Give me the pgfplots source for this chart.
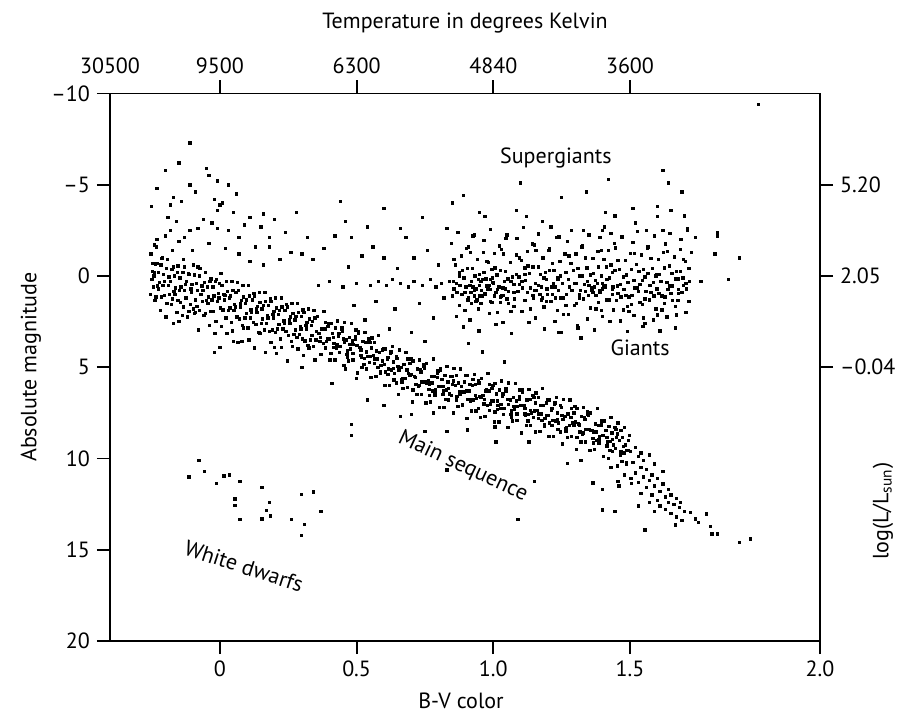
\documentclass[border=0pt]{standalone}
\usepackage{fontspec}
\setmainfont{PT Sans}
\usepackage{pgfplots}
\pgfplotsset{compat=1.18}
\usetikzlibrary{calc}
\begin{document}
\begin{tikzpicture}[font=\fontsize{11}{13}\selectfont]
\pgfplotsset{hrbase/.style={scale only axis, width=355pt, height=273.75pt,
  xmin=-0.402, xmax=2.195, ymin=-10, ymax=20, y dir=reverse,
  axis line style={line width=0.9pt}, tick align=outside,
  major tick length=6.5pt, major tick style={line width=0.9pt, black}, minor tick num=0}}
\begin{axis}[name=ax, hrbase,
  xtick={0,0.5,1,1.5,2.195}, xticklabels={0,0.5,1.0,1.5,2.0},
  ytick={-10,-5,0,5,10,15,20}, yticklabels={\textendash10,\textendash5,0,5,10,15,20},
  xtick pos=lower, ytick pos=left]
\pgfplotsset{dotstyle/.style={only marks, mark=square*, mark size=0.6pt, black}}
% hot luminous stars (upper left)
\addplot[dotstyle] coordinates {(-0.11,-7.3)(-0.15,-6.2)(-0.20,-5.8)(-0.23,-4.8)(-0.25,-3.8)(-0.11,-5.0)(-0.05,-5.9)(-0.04,-5.5)(0.03,-5.0)(0.06,-4.5)(-0.02,-4.2)(0.0,-3.9)(-0.01,-3.6)(0.01,-4.0)(-0.18,-3.9)(-0.14,-4.1)(-0.17,-4.3)(0.11,-3.2)(0.16,-3.4)(0.20,-3.1)(0.15,-2.7)(0.18,-2.1)(-0.23,-2.0)(-0.18,-2.5)(-0.11,-2.5)(-0.08,-2.6)(-0.01,-2.6)(0.03,-2.5)(0.07,-2.1)(0.13,-1.6)(0.18,-1.6)(0.22,-0.9)(0.26,-1.3)(0.30,-1.2)(-0.24,-1.7)(-0.21,-1.0)(-0.17,-0.5)(-0.23,-0.7)(-0.13,-0.5)(-0.08,-0.5)(0.32,-2.1)(-0.19,-3.2)(-0.16,-3.0)(-0.13,-2.1)(-0.06,-3.1)(-0.03,-2.9)(0.05,-3.5)(0.09,-2.8)(-0.09,-4.6)(-0.01,-5.2)(0.24,-2.4)(0.28,-3.5)(-0.20,-2.2)(-0.15,-1.9)(-0.10,-1.4)(-0.04,-1.8)(0.02,-1.5)(0.07,-1.2)(0.11,-0.8)(0.16,-0.6)};
% upper main sequence
\addplot[dotstyle] coordinates {(-0.253,-1.2)(-0.246,-0.25)(-0.249,0.2)(-0.254,1.0)
(-0.236,-0.65)(-0.242,0.0)(-0.244,0.6)(-0.238,1.35)
(-0.233,-1.6)(-0.226,-0.2)(-0.229,0.55)(-0.234,1.15)
(-0.216,-0.6)(-0.222,0.35)(-0.224,0.7)(-0.218,1.9)
(-0.213,-0.95)(-0.206,-0.1)(-0.209,0.5)(-0.214,1.15)
(-0.196,-0.4)(-0.202,0.3)(-0.204,1.05)(-0.198,2.25)
(-0.193,-0.9)(-0.186,0.05)(-0.189,0.5)(-0.194,1.5)
(-0.176,-0.35)(-0.182,0.3)(-0.184,1.0)(-0.178,1.55)
(-0.173,-1.4)(-0.166,0.0)(-0.169,0.85)(-0.174,1.25)(-0.17,2.6)
(-0.156,-0.2)(-0.162,0.65)(-0.164,1.0)(-0.158,2.0)
(-0.153,-0.55)(-0.146,0.1)(-0.149,0.8)(-0.154,1.35)
(-0.136,-0.2)(-0.142,0.6)(-0.144,1.45)(-0.138,2.15)
(-0.133,-0.9)(-0.126,0.45)(-0.129,0.8)(-0.134,1.7)
(-0.116,-0.15)(-0.122,0.3)(-0.124,1.2)(-0.118,2.25)
(-0.113,-0.1)(-0.106,0.7)(-0.109,1.55)(-0.114,1.95)
(-0.096,-0.6)(-0.102,0.45)(-0.104,0.9)(-0.098,1.8)
(-0.093,-0.05)(-0.086,0.4)(-0.089,1.3)(-0.094,2.05)
(-0.076,0.0)(-0.082,0.8)(-0.084,1.65)(-0.078,2.95)
(-0.073,-0.4)(-0.066,0.55)(-0.069,1.0)(-0.074,1.9)
(-0.056,0.35)(-0.062,0.8)(-0.064,1.4)(-0.058,2.15)
(-0.053,-0.2)(-0.046,0.6)(-0.049,1.35)(-0.054,2.05)
(-0.036,0.3)(-0.042,1.15)(-0.044,1.5)(-0.038,2.7)
(-0.033,0.15)(-0.026,0.6)(-0.029,1.3)(-0.034,1.95)
(-0.016,0.3)(-0.022,1.1)(-0.024,1.95)(-0.018,3.15)
(-0.013,0.2)(-0.006,0.95)(-0.009,1.4)(-0.014,2.5)
(0.004,-0.15)(-0.002,0.4)(-0.004,1.2)(0.002,1.75)
(0.007,0.5)(0.014,1.0)(0.011,1.85)(0.006,2.75)
(0.024,0.3)(0.018,1.05)(0.016,1.3)(0.022,2.3)
(0.027,0.85)(0.034,1.2)(0.031,1.9)(0.026,3.15)
(0.044,0.3)(0.038,1.1)(0.036,1.75)(0.042,2.55)
(0.047,0.8)(0.054,1.55)(0.051,1.9)(0.046,3.0)
(0.064,0.35)(0.058,0.9)(0.056,1.7)(0.062,2.25)
(0.067,0.8)(0.074,1.5)(0.071,2.35)(0.066,3.65)
(0.084,0.5)(0.078,1.35)(0.076,1.7)(0.082,2.7)
(0.087,1.15)(0.094,1.5)(0.091,2.3)(0.086,2.85)
(0.104,0.5)(0.098,1.3)(0.096,2.05)(0.102,2.85)
(0.107,1.1)(0.114,1.85)(0.111,2.3)(0.106,3.5)
(0.124,0.95)(0.118,1.3)(0.116,2.0)(0.122,2.55)
(0.127,1.1)(0.134,1.8)(0.131,2.65)(0.126,3.95)
(0.144,0.9)(0.138,1.65)(0.136,2.0)(0.142,3.1)
(0.147,1.45)(0.154,1.8)(0.151,2.6)(0.146,3.15)
(0.164,0.9)(0.158,1.6)(0.156,2.35)(0.162,2.95)
(0.167,1.4)(0.174,2.15)(0.171,2.6)(0.166,4.2)
(0.184,1.25)(0.178,1.6)(0.176,2.3)(0.182,3.05)
(0.187,1.4)(0.194,2.1)(0.191,2.95)(0.186,3.65)
(0.204,1.2)(0.198,1.95)(0.196,2.3)(0.202,3.1)
(0.207,1.75)(0.214,2.1)(0.211,2.9)(0.206,4.25)
(0.224,1.2)(0.218,1.9)(0.216,2.65)(0.222,3.45)
(0.227,1.7)(0.234,2.45)(0.231,2.9)(0.226,3.9)
(0.244,1.55)(0.238,1.9)(0.236,2.6)(0.242,3.05)
(0.247,1.7)(0.254,2.4)(0.251,3.25)(0.246,4.65)
(0.264,1.5)(0.258,2.25)(0.256,2.6)(0.262,3.6)
(0.267,2.05)(0.274,2.4)(0.271,3.2)(0.266,3.85)
(0.284,1.5)(0.278,2.2)(0.276,2.95)(0.282,3.35)
(0.287,2.0)(0.294,2.75)(0.291,3.2)(0.286,4.0)
(0.304,1.85)(0.298,2.2)(0.296,2.9)(0.302,3.45)
(0.307,2.0)(0.314,2.7)(0.311,3.55)(0.306,4.35)
(0.324,1.8)(0.318,2.55)(0.316,2.9)(0.322,3.8)
(0.327,2.35)(0.334,2.7)(0.331,3.5)(0.326,3.95)
(0.344,1.9)(0.338,2.5)(0.336,3.25)(0.342,3.85)
(0.347,2.3)(0.354,3.05)(0.351,3.5)(0.346,4.6)
(-0.245,-0.7)(-0.24,-0.2)(-0.15,2.5)(-0.09,2.0)(-0.02,4.2)(0.0,3.9)(0.05,3.6)(0.08,3.6)(0.2,3.9)(0.30,5.0)(0.35,4.6)};
% main sequence
\addplot[dotstyle] coordinates {(0.356,2.2)(0.362,3.15)(0.365,3.6)(0.373,2.9)(0.367,3.35)(0.37,4.3)(0.38,1.95)(0.384,2.9)(0.378,3.7)(0.395,2.75)(0.389,3.6)(0.386,3.95)(0.398,2.6)(0.401,3.45)(0.403,4.6)
(0.406,2.6)(0.412,3.15)(0.415,3.9)(0.423,2.85)(0.417,3.7)(0.42,4.6)(0.43,2.45)(0.434,3.3)(0.428,3.75)(0.445,2.9)(0.439,3.85)(0.436,4.2)(0.448,3.0)(0.451,3.45)(0.453,4.9)
(0.456,2.55)(0.462,3.5)(0.465,4.3)(0.473,3.35)(0.467,4.1)(0.47,4.65)(0.48,2.6)(0.484,3.55)(0.478,4.0)(0.495,3.3)(0.489,3.75)(0.486,4.6)(0.498,2.95)(0.501,3.8)(0.503,5.3)
(0.506,3.05)(0.512,3.9)(0.515,4.35)(0.523,3.6)(0.517,4.45)(0.52,5.0)(0.53,3.1)(0.534,3.65)(0.528,4.5)(0.545,3.45)(0.539,4.4)(0.536,5.1)(0.548,3.65)(0.551,4.4)(0.553,5.55)
(0.556,3.4)(0.562,4.35)(0.565,4.8)(0.573,4.1)(0.567,4.55)(0.57,5.5)(0.58,3.25)(0.584,4.2)(0.578,5.0)(0.595,4.05)(0.589,4.9)(0.586,5.25)(0.598,4.0)(0.601,4.85)(0.603,6.0)
(0.606,4.0)(0.612,4.55)(0.615,5.4)(0.623,4.25)(0.617,5.1)(0.62,6.0)(0.63,3.85)(0.634,4.7)(0.628,5.15)(0.645,4.4)(0.639,5.35)(0.636,5.7)(0.648,4.5)(0.651,4.95)(0.653,6.5)
(0.656,4.05)(0.662,5.0)(0.665,5.8)(0.673,4.85)(0.667,5.6)(0.67,6.15)(0.68,4.2)(0.684,5.15)(0.678,5.6)(0.695,4.8)(0.689,5.35)(0.686,6.1)(0.698,4.55)(0.701,5.4)(0.703,6.9)
(0.706,4.65)(0.712,5.5)(0.715,5.95)(0.723,5.1)(0.717,5.95)(0.72,6.5)(0.73,4.6)(0.734,5.15)(0.728,6.0)(0.745,4.85)(0.739,5.8)(0.736,6.5)(0.748,5.05)(0.751,5.8)(0.753,6.95)
(0.756,4.8)(0.762,5.75)(0.765,6.2)(0.773,5.5)(0.767,5.95)(0.77,6.9)(0.78,4.55)(0.784,5.5)(0.778,6.3)(0.795,5.35)(0.789,6.2)(0.786,6.55)(0.798,5.2)(0.801,6.05)(0.803,7.2)
(0.806,5.1)(0.812,5.65)(0.815,6.5)(0.823,5.45)(0.817,6.3)(0.82,7.2)(0.83,4.95)(0.834,5.8)(0.828,6.25)(0.845,5.5)(0.839,6.45)(0.836,6.8)(0.848,5.5)(0.851,5.95)(0.853,7.5)
(0.856,5.05)(0.862,6.0)(0.865,6.8)(0.873,5.85)(0.867,6.6)(0.87,7.15)(0.88,5.1)(0.884,6.05)(0.878,6.5)(0.895,5.8)(0.889,6.35)(0.886,7.1)(0.898,5.45)(0.901,6.3)(0.903,7.8)
(0.906,5.45)(0.912,6.3)(0.915,6.75)(0.923,6.0)(0.917,6.85)(0.92,7.4)(0.93,5.4)(0.934,5.95)(0.928,6.8)(0.945,5.75)(0.939,6.7)(0.936,7.4)(0.948,5.85)(0.951,6.6)(0.953,7.75)
(0.956,5.6)(0.962,6.55)(0.965,7.0)(0.973,6.3)(0.967,6.75)(0.97,7.7)(0.98,5.35)(0.984,6.3)(0.978,7.1)(0.995,6.15)(0.989,7.0)(0.986,7.35)(0.998,6.0)(1.001,6.85)(1.003,8.0)
(1.006,5.9)(1.012,6.45)(1.015,7.3)(1.023,6.25)(1.017,7.1)(1.02,8.0)(1.03,5.75)(1.034,6.6)(1.028,7.05)(1.045,6.3)(1.039,7.25)(1.036,7.6)(1.048,6.3)(1.051,6.75)(1.053,8.3)
(1.056,5.85)(1.062,6.8)(1.065,7.6)(1.073,6.65)(1.067,7.4)(1.07,7.95)(1.08,5.9)(1.084,6.85)(1.078,7.3)(1.095,6.6)(1.089,7.15)(1.086,7.9)(1.098,6.25)(1.101,7.1)(1.103,8.6)
(1.106,6.25)(1.112,7.1)(1.115,7.55)(1.123,6.8)(1.117,7.65)(1.12,8.2)(1.13,6.2)(1.134,6.75)(1.128,7.6)(1.145,6.55)(1.139,7.5)(1.136,8.2)(1.148,6.65)(1.151,7.4)(1.153,8.55)
(1.156,6.4)(1.162,7.35)(1.165,7.8)(1.173,7.1)(1.167,7.55)(1.17,8.5)(1.18,6.15)(1.184,7.1)(1.178,7.9)(1.195,6.95)(1.189,7.8)(1.186,8.15)(1.198,6.8)(1.201,7.65)(1.203,8.8)
(1.206,6.8)(1.212,7.35)(1.215,8.2)(1.223,7.05)(1.217,7.9)(1.22,8.8)(1.23,6.65)(1.234,7.5)(1.228,7.95)(1.245,7.1)(1.239,8.05)(1.236,8.4)(1.248,7.2)(1.251,7.65)(1.253,9.2)
(1.256,6.75)(1.262,7.7)(1.265,8.5)(1.273,7.55)(1.267,8.3)(1.27,8.85)(1.28,6.8)(1.284,7.75)(1.278,8.2)(1.295,7.5)(1.289,8.05)(1.286,8.8)(1.298,7.15)(1.301,8.0)(1.303,9.5)
(1.306,7.25)(1.312,8.1)(1.315,8.55)(1.323,7.7)(1.317,8.55)(1.32,9.1)(1.33,7.2)(1.334,7.75)(1.328,8.6)(1.345,7.45)(1.339,8.4)(1.336,9.1)(1.348,7.65)(1.351,8.4)(1.353,9.55)
(1.356,7.5)(1.362,8.45)(1.365,8.9)(1.373,8.1)(1.367,8.55)(1.37,9.5)(1.38,7.25)(1.384,8.2)(1.378,9.0)(1.395,7.95)(1.389,8.8)(1.386,9.15)(1.398,7.9)(1.401,8.75)(1.403,9.9)
(1.406,7.9)(1.412,8.45)(1.415,9.3)(1.423,8.25)(1.417,9.1)(1.42,10.0)(1.43,7.75)(1.434,8.6)(1.428,9.05)(1.445,8.3)(1.439,9.25)(1.436,9.6)(1.448,8.4)(1.451,8.85)(1.453,10.4)
(1.456,8.05)(1.462,9.0)(1.465,9.8)(1.473,8.85)(1.467,9.6)(1.47,10.15)(1.48,8.3)(1.484,9.25)(1.478,9.7)(1.495,9.0)(1.489,9.55)(1.486,10.3)(1.498,8.75)(1.501,9.6)(1.503,11.1)};
% main sequence, second layer
\addplot[dotstyle] coordinates {(0.375,2.9)(0.366,3.6)(0.395,3.45)(0.386,2.55)(0.415,3.35)(0.406,4.25)(0.435,3.15)(0.426,3.95)(0.455,3.65)(0.446,2.85)(0.475,3.75)(0.466,4.45)(0.495,3.45)(0.486,4.25)(0.515,4.05)(0.506,3.15)(0.535,4.15)(0.526,4.85)(0.555,3.95)(0.546,4.75)(0.575,4.55)(0.566,3.65)(0.595,4.65)(0.586,5.35)(0.615,4.45)(0.606,5.25)(0.635,5.05)(0.626,4.15)(0.655,5.15)(0.646,5.85)(0.675,4.85)(0.666,5.65)(0.695,5.45)(0.686,4.55)(0.715,5.55)(0.706,6.25)(0.735,5.25)(0.726,6.05)(0.755,5.85)(0.746,4.95)(0.775,5.85)(0.766,6.55)(0.795,5.55)(0.786,6.35)(0.815,6.05)(0.806,5.15)(0.835,6.15)(0.826,6.75)(0.855,5.75)(0.846,6.55)(0.875,6.35)(0.866,5.45)(0.895,6.35)(0.886,7.05)(0.915,5.95)(0.906,6.75)(0.935,6.55)(0.926,5.65)(0.955,6.65)(0.946,7.25)(0.975,6.25)(0.966,7.05)(0.995,6.85)(0.986,5.95)(1.015,6.85)(1.006,7.45)(1.035,6.45)(1.026,7.25)(1.055,7.05)(1.046,6.15)(1.075,7.15)(1.066,7.75)(1.095,6.75)(1.086,7.55)(1.115,7.25)(1.106,6.35)(1.135,7.35)(1.126,7.95)(1.155,6.95)(1.146,7.75)(1.175,7.55)(1.166,6.65)(1.195,7.65)(1.186,8.25)(1.215,7.25)(1.206,8.05)(1.235,7.85)(1.226,6.95)(1.255,7.85)(1.246,8.55)(1.275,7.55)(1.266,8.35)(1.295,8.15)(1.286,7.25)(1.315,8.15)(1.306,8.85)(1.335,7.85)(1.326,8.65)(1.355,8.45)(1.346,7.55)(1.375,8.55)(1.366,9.15)(1.395,8.15)(1.386,8.95)(1.415,8.85)(1.406,7.95)(1.435,8.95)(1.426,9.55)(1.455,8.65)(1.446,9.45)(1.475,9.35)(1.466,8.45)(1.495,9.55)(1.486,10.25)
(0.41,5.9)(0.46,5.1)(0.50,5.6)(0.54,6.8)(0.60,7.1)(0.66,7.7)(0.70,7.6)(0.78,7.5)};
% lower main sequence
\addplot[dotstyle] coordinates {(1.51,10.2)(1.52,9.4)(1.52,10.8)(1.53,9.9)(1.53,11.3)(1.54,10.5)(1.54,9.7)(1.55,11.0)(1.55,10.1)(1.56,11.6)(1.56,10.6)(1.57,9.8)(1.57,11.2)(1.58,12.0)(1.58,10.9)(1.59,11.5)(1.59,10.3)(1.60,12.3)(1.60,11.1)(1.61,11.8)(1.61,12.6)(1.62,11.4)(1.62,10.7)(1.63,12.1)(1.63,12.8)(1.64,11.7)(1.64,12.4)(1.65,13.0)(1.65,12.0)(1.66,12.5)(1.67,13.2)(1.67,12.2)(1.68,12.67)(1.685,12.4)(1.69,13.4)(1.70,12.9)(1.72,12.95)(1.74,13.32)(1.75,13.5)(1.78,13.04)(1.795,13.73)(1.80,14.13)(1.82,14.13)(1.90,14.6)(1.94,14.4)(1.40,12.82)(1.445,12.91)(1.555,13.92)(1.665,13.64)(1.40,11.7)(1.365,11.33)(1.456,11.27)(1.506,11.36)(1.54,11.9)(1.57,12.4)(1.59,12.9)(1.48,10.9)(1.46,11.5)(1.43,10.5)(1.53,12.6)};
% scattered stars below the main sequence
\addplot[dotstyle] coordinates {(0.48,8.13)(0.48,8.75)(0.75,8.53)(0.83,8.53)(0.905,8.44)(1.006,8.26)(1.01,9.08)(1.13,9.08)(1.27,10.27)(1.32,10.1)(1.15,11.27)(1.09,13.33)(0.83,10.63)};
% giants
\addplot[dotstyle] coordinates {(0.846,-1.8)(0.853,0.3)(0.85,1.1)(0.862,-0.6)(0.856,0.7)(0.865,2.2)(0.87,-2.4)(0.875,-0.2)(0.867,0.9)(0.884,-1.1)(0.878,0.5)(0.875,1.6)
(0.886,-0.3)(0.893,0.1)(0.89,2.8)(0.902,-1.5)(0.896,0.9)(0.905,1.3)(0.91,-1.6)(0.915,0.5)(0.907,1.3)(0.924,-0.4)(0.918,0.9)(0.915,2.4)
(0.926,-2.2)(0.933,0.0)(0.93,1.1)(0.942,-0.9)(0.936,0.7)(0.945,1.8)(0.95,-0.1)(0.955,0.3)(0.947,3.0)(0.964,-1.3)(0.958,1.1)(0.955,1.5)
(0.966,-1.95)(0.973,0.15)(0.97,0.95)(0.982,-0.75)(0.976,0.55)(0.985,2.05)(0.99,-2.55)(0.995,-0.35)(0.987,0.75)(1.004,-1.25)(0.998,0.35)(0.995,1.45)
(1.006,-0.45)(1.013,-0.05)(1.01,2.65)(1.022,-1.65)(1.016,0.75)(1.025,1.15)(1.03,-1.45)(1.035,0.65)(1.027,1.45)(1.044,-0.25)(1.038,1.05)(1.035,2.55)
(1.046,-2.05)(1.053,0.15)(1.05,1.25)(1.062,-0.75)(1.056,0.85)(1.065,1.95)(1.07,0.05)(1.075,0.45)(1.067,3.15)(1.084,-1.15)(1.078,1.25)(1.075,1.65)
(1.086,-2.05)(1.093,0.05)(1.09,0.85)(1.102,-0.85)(1.096,0.45)(1.105,1.95)(1.11,-2.65)(1.115,-0.45)(1.107,0.65)(1.124,-1.35)(1.118,0.25)(1.115,1.35)
(1.126,-0.55)(1.133,-0.15)(1.13,2.55)(1.142,-1.75)(1.136,0.65)(1.145,1.05)(1.15,-1.7)(1.155,0.4)(1.147,1.2)(1.164,-0.5)(1.158,0.8)(1.155,2.3)
(1.166,-2.3)(1.173,-0.1)(1.17,1.0)(1.182,-1.0)(1.176,0.6)(1.185,1.7)(1.19,-0.2)(1.195,0.2)(1.187,2.9)(1.204,-1.4)(1.198,1.0)(1.195,1.4)
(1.206,-1.5)(1.213,0.6)(1.21,1.4)(1.222,-0.3)(1.216,1.0)(1.225,2.5)(1.23,-2.1)(1.235,0.1)(1.227,1.2)(1.244,-0.8)(1.238,0.8)(1.235,1.9)
(1.246,0.0)(1.253,0.4)(1.25,3.1)(1.262,-1.2)(1.256,1.2)(1.265,1.6)(1.27,-1.9)(1.275,0.2)(1.267,1.0)(1.284,-0.7)(1.278,0.6)(1.275,2.1)
(1.286,-2.5)(1.293,-0.3)(1.29,0.8)(1.302,-1.2)(1.296,0.4)(1.305,1.5)(1.31,-0.4)(1.315,0.0)(1.307,2.7)(1.324,-1.6)(1.318,0.8)(1.315,1.2)
(1.326,-1.65)(1.333,0.45)(1.33,1.25)(1.342,-0.45)(1.336,0.85)(1.345,2.35)(1.35,-2.25)(1.355,-0.05)(1.347,1.05)(1.364,-0.95)(1.358,0.65)(1.355,1.75)
(1.366,-0.15)(1.373,0.25)(1.37,2.95)(1.382,-1.35)(1.376,1.05)(1.385,1.45)(1.39,-2.1)(1.395,0.0)(1.387,0.8)(1.404,-0.9)(1.398,0.4)(1.395,1.9)
(1.406,-2.7)(1.413,-0.5)(1.41,0.6)(1.422,-1.4)(1.416,0.2)(1.425,1.3)(1.43,-0.6)(1.435,-0.2)(1.427,2.5)(1.444,-1.8)(1.438,0.6)(1.435,1.0)
(1.446,-1.55)(1.453,0.55)(1.45,1.35)(1.462,-0.35)(1.456,0.95)(1.465,2.45)(1.47,-2.15)(1.475,0.05)(1.467,1.15)(1.484,-0.85)(1.478,0.75)(1.475,1.85)
(1.486,-0.05)(1.493,0.35)(1.49,3.05)(1.502,-1.25)(1.496,1.15)(1.505,1.55)(1.51,-1.85)(1.515,0.25)(1.507,1.05)(1.524,-0.65)(1.518,0.65)(1.515,2.15)
(1.526,-2.45)(1.533,-0.25)(1.53,0.85)(1.542,-1.15)(1.536,0.45)(1.545,1.55)(1.55,-0.35)(1.555,0.05)(1.547,2.75)(1.564,-1.55)(1.558,0.85)(1.555,1.25)
(1.566,-1.6)(1.573,0.5)(1.57,1.3)(1.582,-0.4)(1.576,0.9)(1.585,2.4)(1.59,-2.2)(1.595,0.0)(1.587,1.1)(1.604,-0.9)(1.598,0.7)(1.595,1.8)
(1.606,-0.1)(1.613,0.3)(1.61,3.0)(1.622,-1.3)(1.616,1.1)(1.625,1.5)(1.63,-1.75)(1.635,0.35)(1.627,1.15)(1.644,-0.55)(1.638,0.75)(1.635,2.25)
(1.646,-2.35)(1.653,-0.15)(1.65,0.95)(1.662,-1.05)(1.656,0.55)(1.665,1.65)(1.67,-0.25)(1.675,0.15)(1.667,2.85)(1.684,-1.45)(1.678,0.95)(1.675,1.35)
(1.686,-2.0)(1.693,0.1)(1.69,0.9)(1.702,-0.8)(1.696,0.5)(1.705,2.0)(1.71,-2.6)(1.715,-0.4)(1.707,0.7)(1.724,-1.3)(1.718,0.3)(1.715,1.4)};
% giants, second layer and clump
\addplot[dotstyle] coordinates {(0.865,0.4)(0.856,-0.9)(0.885,1.0)(0.876,0.0)(0.905,-0.4)(0.896,1.9)(0.925,0.6)(0.916,-1.3)(0.945,0.2)(0.936,1.4)(0.965,-0.2)(0.956,0.8)(0.985,0.5)(0.976,-0.8)(1.005,1.1)(0.996,0.1)(1.025,-0.3)(1.016,2.0)(1.045,0.7)(1.036,-1.2)(1.065,0.3)(1.056,1.5)(1.085,-0.1)(1.076,0.9)(1.105,0.3)(1.096,-1.0)(1.125,0.9)(1.116,-0.1)(1.145,-0.5)(1.136,1.8)(1.165,0.5)(1.156,-1.4)(1.185,0.1)(1.176,1.3)(1.205,-0.3)(1.196,0.7)(1.225,0.6)(1.216,-0.7)(1.245,1.2)(1.236,0.2)(1.265,-0.2)(1.256,2.1)(1.285,0.8)(1.276,-1.1)(1.305,0.4)(1.296,1.6)(1.325,0.0)(1.316,1.0)(1.345,0.3)(1.336,-1.0)(1.365,0.9)(1.356,-0.1)(1.385,-0.5)(1.376,1.8)(1.405,0.5)(1.396,-1.4)(1.425,0.1)(1.416,1.3)(1.445,-0.3)(1.436,0.7)(1.465,0.45)(1.456,-0.85)(1.485,1.05)(1.476,0.05)(1.505,-0.35)(1.496,1.95)(1.525,0.65)(1.516,-1.25)(1.545,0.25)(1.536,1.45)(1.565,-0.15)(1.556,0.85)(1.585,0.35)(1.576,-0.95)(1.605,0.95)(1.596,-0.05)(1.625,-0.45)(1.616,1.85)(1.645,0.55)(1.636,-1.35)(1.665,0.15)(1.656,1.35)(1.685,-0.25)(1.676,0.75)(1.705,0.4)(1.696,-0.9)
(0.90,0.6)(0.91,1.2)(0.92,0.3)(0.93,0.8)(0.94,1.3)(0.95,0.5)(0.96,0.2)(0.97,1.0)(0.98,0.7)(0.99,1.4)(1.00,0.4)(1.01,0.9)(1.02,0.6)(1.03,1.1)(1.04,0.3)(0.92,1.5)(0.95,1.1)(0.99,0.2)(1.35,0.5)(1.36,0.8)(1.37,0.6)(1.38,0.4)(1.39,0.9)(1.40,0.7)(1.41,0.5)(1.15,0.8)(1.18,1.2)(1.22,0.4)
(1.24,3.1)(1.31,2.85)(1.32,3.4)(1.04,4.7)(0.96,4.15)(0.91,3.7)(1.555,2.6)(1.67,2.14)(1.60,2.14)(1.55,2.3)(1.40,2.2)(1.44,1.86)(1.49,1.68)};
% supergiants and the gap
\addplot[dotstyle] coordinates {(1.62,-5.8)(1.64,-5.1)(1.69,-4.6)(1.10,-5.1)(1.42,-5.3)(0.89,-4.4)(1.25,-4.3)(1.34,-4.6)(1.82,-2.4)(1.90,-1.0)(1.86,0.2)(1.81,-1.2)(1.76,0.3)(1.97,-9.4)(0.97,-3.25)(1.085,-3.6)(1.12,-3.25)(1.21,-2.7)(1.33,-2.5)(1.40,-2.5)(1.43,-2.33)(1.51,-3.7)(1.56,-2.5)(1.60,-3.8)(1.60,-3.25)(1.65,-3.6)(1.70,-3.3)(1.62,-2.5)(1.71,-2.5)(1.74,-2.1)(0.85,-4.0)(0.95,-3.5)(1.41,-3.5)(1.445,-3.3)(1.24,-2.15)(1.05,-2.25)(0.93,-2.25)(1.82,-2.2)(1.18,-3.0)(1.52,-2.9)
(0.34,-0.9)(0.36,0.5)(0.38,-1.5)(0.40,0.3)(0.42,-2.2)(0.44,-4.1)(0.45,0.6)(0.47,-0.5)(0.48,-2.1)(0.50,0.4)(0.52,-1.1)(0.54,-2.7)(0.55,0.5)(0.56,-1.6)(0.57,1.4)(0.58,0.3)(0.60,-1.0)(0.60,-3.7)(0.61,0.5)(0.63,0.2)(0.64,1.8)(0.65,-0.4)(0.66,0.4)(0.68,-2.1)(0.69,0.6)(0.71,-1.0)(0.71,0.3)(0.73,1.5)(0.74,0.5)(0.76,-1.4)(0.77,0.2)(0.78,2.3)(0.79,0.6)(0.80,-0.6)(0.81,0.4)(0.82,1.2)(0.83,-2.6)(0.84,0.3)(0.49,1.6)(0.53,2.4)(0.62,2.9)(0.70,3.1)(0.75,3.6)(0.46,-3.0)(0.66,-2.6)(0.74,-3.2)};
% white dwarfs
\addplot[dotstyle] coordinates {(-0.077,10.12)(-0.113,11.0)(-0.057,10.72)(0.015,10.96)(0.034,10.9)(-0.012,11.36)(0.073,11.27)(0.153,11.6)(0.055,12.22)(0.055,12.58)(0.073,13.33)(0.153,13.32)(0.18,12.42)(0.171,12.86)(0.185,13.15)(0.262,13.33)(0.299,11.96)(0.341,11.82)(0.37,12.91)(0.309,13.6)(0.299,14.2)};
\node at (axis cs:1.229,-6.47) {Supergiants};
\node at (axis cs:1.537,3.95) {Giants};
\node[rotate=-25] at (axis cs:0.889,10.45) {Main sequence};
\node[rotate=-18] at (axis cs:0.088,15.9) {White dwarfs};
\end{axis}
\begin{axis}[hrbase,
  xtick pos=upper, xticklabel pos=upper, ytick pos=right, yticklabel pos=right,
  xtick={0,0.5,1,1.5}, xticklabels={9500,6300,4840,3600},
  extra x ticks={-0.402}, extra x tick labels={30500}, extra x tick style={major tick style={draw=none}},
  ytick={-5,0,5}, yticklabels={5.20,2.05,\textendash0.04}]
\end{axis}
\node[anchor=base, inner sep=0pt] at ($(ax.north)+(0,32.25pt)$) {Temperature in degrees Kelvin};
\node[anchor=base, inner sep=0pt] at ($(ax.south)+(-2pt,-34pt)$) {B-V color};
\node[rotate=90, inner sep=0pt] at ($(ax.west)+(-39.5pt,0)$) {Absolute magnitude};
\node[rotate=90, inner sep=0pt] at ($(ax.east)+(31.5pt,-72pt)$) {log(L/L\textsubscript{sun})};
\pgfresetboundingbox
\path ($(ax.south west)+(-55pt,-37pt)$) rectangle ($(ax.north east)+(42pt,46.75pt)$);
\end{tikzpicture}
\end{document}
